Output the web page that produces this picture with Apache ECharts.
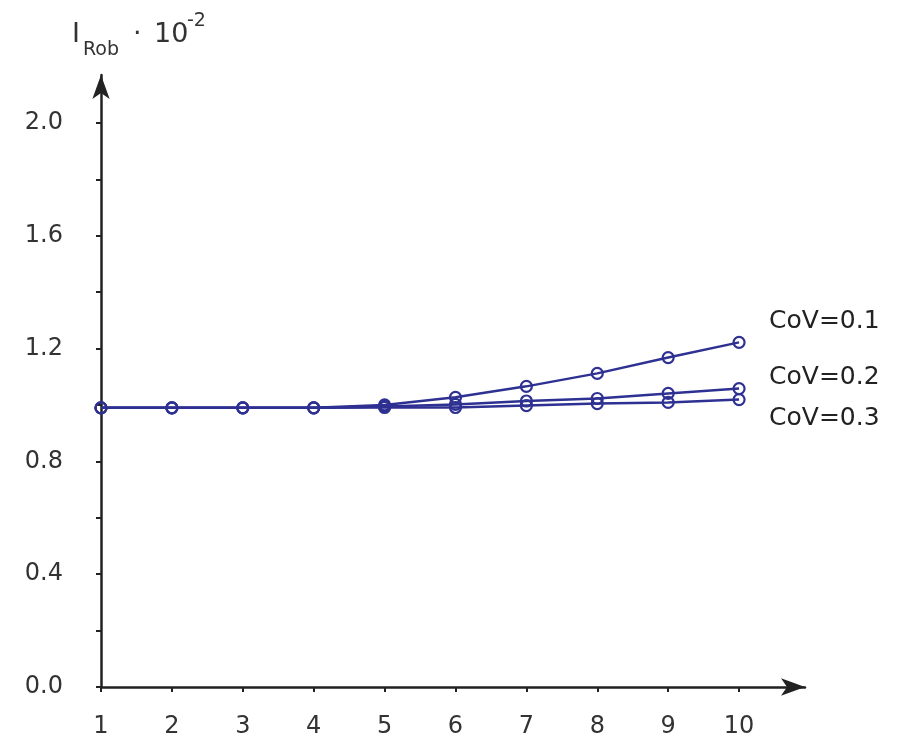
<!DOCTYPE html>
<html>
<head>
<meta charset="utf-8"/>
<title>IRob</title>
<script src="https://cdn.jsdelivr.net/npm/echarts@6/dist/echarts.min.js"></script>
<style>
  html, body { margin: 0; padding: 0; background: #fff; }
  #main { width: 899px; height: 736px; }
</style>
</head>
<body>
<div id="main"></div>
<script type="text/javascript">
var xs = [1, 2, 3, 4, 5, 6, 7, 8, 9, 10];
var cov01 = [0.99, 0.99, 0.99, 0.99, 1.00, 1.027, 1.066, 1.112, 1.168, 1.222];
var cov02 = [0.99, 0.99, 0.99, 0.99, 0.995, 1.002, 1.014, 1.023, 1.041, 1.058];
var cov03 = [0.99, 0.99, 0.99, 0.99, 0.991, 0.991, 0.998, 1.005, 1.009, 1.019];
var seriesNames = ['CoV=0.1', 'CoV=0.2', 'CoV=0.3'];
var yTicks = [0, 0.2, 0.4, 0.6, 0.8, 1.0, 1.2, 1.4, 1.6, 1.8, 2.0];
var yLabels = [0, 0.4, 0.8, 1.2, 1.6, 2.0];
var labelOffsets = [[22, -21], [22, -11], [22, 19]];

var lineColor = '#2e3192';
var font = 'DejaVu Sans, Verdana, sans-serif';

function pairs(arr) {
  return arr.map(function (v, i) { return [xs[i], v]; });
}

function makeSeries(name, arr, k) {
  return {
    name: name,
    type: 'line',
    data: pairs(arr),
    symbol: 'circle',
    symbolSize: 11,
    lineStyle: { color: lineColor, width: 2.5 },
    itemStyle: { color: 'rgba(0,0,0,0)', borderColor: lineColor, borderWidth: 2.2 },
    endLabel: {
      show: true,
      formatter: name,
      offset: labelOffsets[k],
      color: '#222',
      fontSize: 25,
      fontFamily: font
    },
    animation: false
  };
}

// axis title: I_Rob · 10^-2
function titlePart(text, x, y, size) {
  return {
    type: 'text', x: x, y: y, silent: true,
    style: { text: text, fontSize: size, fontFamily: font, fill: '#333', verticalAlign: 'middle', align: 'left' }
  };
}

var myChart = echarts.init(document.getElementById('main'));
var option = {
  backgroundColor: '#fff',
  graphic: [
    titlePart('I', 72, 35, 27),
    titlePart('Rob', 83, 50, 19),
    titlePart('·', 133, 35, 27),
    titlePart('10', 154, 35, 27),
    titlePart('-2', 187, 21, 19)
  ],
  grid: { left: 101, right: 94, top: 75, bottom: 49, outerBoundsMode: 'none' },
  xAxis: {
    type: 'value',
    min: 1, max: 10.93, interval: 1,
    splitLine: { show: false },
    axisLine: { lineStyle: { color: '#222', width: 2.5 }, symbol: ['none', 'arrow'], symbolSize: [13, 24] },
    axisTick: { show: true, length: 5, customValues: xs, lineStyle: { color: '#222', width: 2 } },
    axisLabel: {
      color: '#333', fontSize: 24, fontFamily: font, margin: 28,
      customValues: xs
    }
  },
  yAxis: {
    type: 'value',
    min: 0, max: 2.17, interval: 0.2,
    splitLine: { show: false },
    axisLine: { show: true, lineStyle: { color: '#222', width: 2.5 }, symbol: ['none', 'arrow'], symbolSize: [13, 24] },
    axisTick: { show: true, length: 5, customValues: yTicks, lineStyle: { color: '#222', width: 2 } },
    axisLabel: {
      color: '#333', fontSize: 24, fontFamily: font, margin: 38,
      customValues: yLabels,
      formatter: function (v) { return v.toFixed(1); }
    }
  },
  series: [
    makeSeries(seriesNames[0], cov01, 0),
    makeSeries(seriesNames[1], cov02, 1),
    makeSeries(seriesNames[2], cov03, 2)
  ]
};
myChart.setOption(option);
</script>
</body>
</html>
